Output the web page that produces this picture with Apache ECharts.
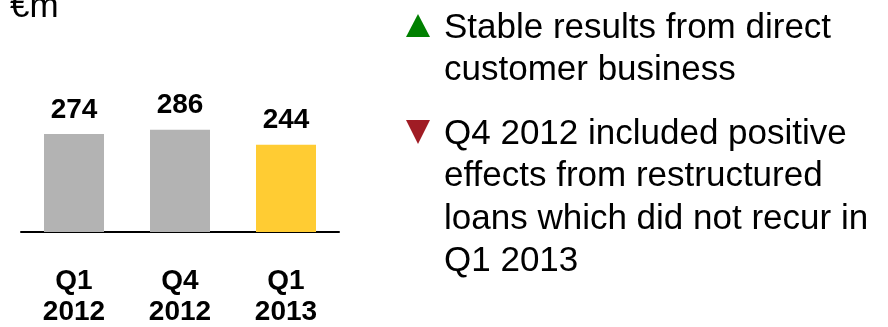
<!DOCTYPE html>
<html>
<head>
<meta charset="utf-8">
<script src="https://cdn.jsdelivr.net/npm/echarts@6/dist/echarts.min.js"></script>
<style>
	html, body { margin: 0; padding: 0; background: #fff; }
	#main { width: 888px; height: 327px; }
</style>
</head>
<body>
<div id="main"></div>
<script>
	// data
	var categories = ['Q1\n2012', 'Q4\n2012', 'Q1\n2013'];
	var values = [274, 286, 244];
	var unitLabel = '€m';
	var upNote = 'Stable results from direct\ncustomer business';
	var downNote = 'Q4 2012 included positive\neffects from restructured\nloans which did not recur in\nQ1 2013';

	var FONT = '"Liberation Sans", Arial, sans-serif';
	var chart = echarts.init(document.getElementById('main'));

	var option = {
		animation: false,
		grid: {
			left: 21,
			width: 318,
			top: 89,
			bottom: 95,
			outerBoundsMode: 'none'
		},
		xAxis: {
			type: 'category',
			data: categories,
			axisLine: { show: true, lineStyle: { color: '#000', width: 2 } },
			axisTick: { show: false },
			axisLabel: {
				margin: 34,
				color: '#000',
				fontFamily: FONT,
				fontWeight: 'bold',
				fontSize: 28,
				lineHeight: 31
			}
		},
		yAxis: {
			type: 'value',
			min: 0,
			max: 400,
			show: false,
			splitLine: { show: false }
		},
		series: [{
			type: 'bar',
			data: values,
			barWidth: 60,
			itemStyle: {
				// last quarter highlighted
				color: function (p) {
					return p.dataIndex === values.length - 1 ? '#ffcc33' : '#b3b3b3';
				}
			},
			label: {
				show: true,
				position: 'top',
				distance: 10,
				color: '#000',
				fontFamily: FONT,
				fontWeight: 'bold',
				fontSize: 28
			}
		}],
		graphic: [
			{
				type: 'text',
				left: 10,
				top: -10,
				style: { text: unitLabel, font: '35px ' + FONT, fill: '#000' }
			},
			{
				type: 'polygon',
				shape: { points: [[418, 14], [430, 37], [406, 37]] },
				style: { fill: '#008000' }
			},
			{
				type: 'text',
				x: 444,
				y: 7,
				style: {
					text: upNote,
					font: '35px ' + FONT,
					lineHeight: 42.5,
					fill: '#000'
				}
			},
			{
				type: 'polygon',
				shape: { points: [[406, 120], [430, 120], [418, 144]] },
				style: { fill: '#a01c24' }
			},
			{
				type: 'text',
				x: 444,
				y: 113,
				style: {
					text: downNote,
					font: '35px ' + FONT,
					lineHeight: 42.5,
					fill: '#000'
				}
			}
		]
	};
	chart.setOption(option);
</script>
</body>
</html>
